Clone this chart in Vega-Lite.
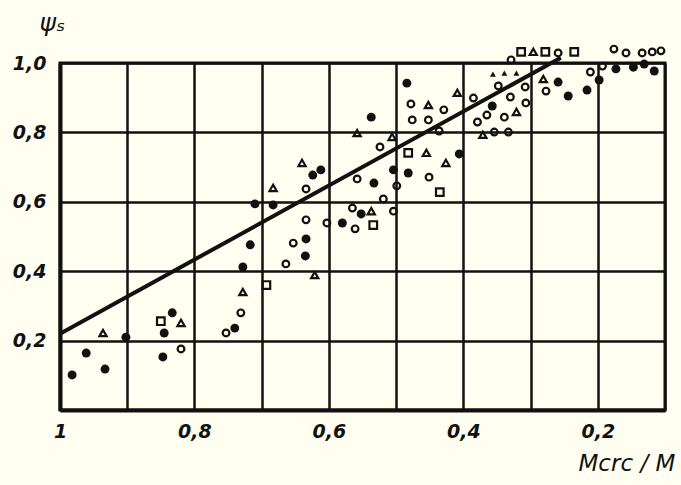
{
  "$schema": "https://vega.github.io/schema/vega-lite/v6.json",
  "width": 605,
  "height": 347,
  "autosize": "none",
  "padding": {"left": 60, "top": 63, "right": 16, "bottom": 75},
  "background": "#fffef0",
  "config": {
    "view": {"stroke": "#111", "strokeWidth": 3},
    "axis": {
      "gridColor": "#111", "gridWidth": 2.5, "gridOpacity": 1,
      "domainColor": "#111", "domainWidth": 4,
      "ticks": false,
      "labelFont": "DejaVu Sans", "labelFontStyle": "italic", "labelFontWeight": "bold",
      "labelFontSize": 19, "labelColor": "#111",
      "titleFont": "DejaVu Sans", "titleFontStyle": "italic", "titleFontWeight": "normal",
      "titleFontSize": 21, "titleColor": "#111"
    }
  },
  "datasets": {
    "pts": [
      {"m": 0.982, "psi": 0.101, "type": "F"},
      {"m": 0.961, "psi": 0.164, "type": "F"},
      {"m": 0.933, "psi": 0.118, "type": "F"},
      {"m": 0.936, "psi": 0.222, "type": "T"},
      {"m": 0.902, "psi": 0.210, "type": "F"},
      {"m": 0.850, "psi": 0.256, "type": "S"},
      {"m": 0.833, "psi": 0.280, "type": "F"},
      {"m": 0.820, "psi": 0.251, "type": "T"},
      {"m": 0.845, "psi": 0.222, "type": "F"},
      {"m": 0.820, "psi": 0.176, "type": "O"},
      {"m": 0.847, "psi": 0.153, "type": "F"},
      {"m": 0.753, "psi": 0.222, "type": "O"},
      {"m": 0.740, "psi": 0.236, "type": "F"},
      {"m": 0.731, "psi": 0.280, "type": "O"},
      {"m": 0.728, "psi": 0.340, "type": "T"},
      {"m": 0.693, "psi": 0.360, "type": "S"},
      {"m": 0.728, "psi": 0.412, "type": "F"},
      {"m": 0.717, "psi": 0.476, "type": "F"},
      {"m": 0.710, "psi": 0.594, "type": "F"},
      {"m": 0.683, "psi": 0.591, "type": "F"},
      {"m": 0.683, "psi": 0.640, "type": "T"},
      {"m": 0.640, "psi": 0.712, "type": "T"},
      {"m": 0.624, "psi": 0.677, "type": "F"},
      {"m": 0.612, "psi": 0.692, "type": "F"},
      {"m": 0.634, "psi": 0.637, "type": "O"},
      {"m": 0.634, "psi": 0.548, "type": "O"},
      {"m": 0.603, "psi": 0.539, "type": "O"},
      {"m": 0.580, "psi": 0.539, "type": "F"},
      {"m": 0.664, "psi": 0.421, "type": "O"},
      {"m": 0.653, "psi": 0.481, "type": "O"},
      {"m": 0.634, "psi": 0.493, "type": "F"},
      {"m": 0.635, "psi": 0.444, "type": "F"},
      {"m": 0.621, "psi": 0.389, "type": "T"},
      {"m": 0.565, "psi": 0.582, "type": "O"},
      {"m": 0.552, "psi": 0.565, "type": "F"},
      {"m": 0.537, "psi": 0.573, "type": "T"},
      {"m": 0.561, "psi": 0.522, "type": "O"},
      {"m": 0.534, "psi": 0.533, "type": "S"},
      {"m": 0.519, "psi": 0.608, "type": "O"},
      {"m": 0.504, "psi": 0.573, "type": "O"},
      {"m": 0.558, "psi": 0.666, "type": "O"},
      {"m": 0.533, "psi": 0.654, "type": "F"},
      {"m": 0.499, "psi": 0.646, "type": "O"},
      {"m": 0.504, "psi": 0.692, "type": "F"},
      {"m": 0.482, "psi": 0.683, "type": "F"},
      {"m": 0.524, "psi": 0.758, "type": "O"},
      {"m": 0.482, "psi": 0.741, "type": "S"},
      {"m": 0.455, "psi": 0.741, "type": "T"},
      {"m": 0.406, "psi": 0.738, "type": "F"},
      {"m": 0.426, "psi": 0.712, "type": "T"},
      {"m": 0.451, "psi": 0.671, "type": "O"},
      {"m": 0.435, "psi": 0.628, "type": "S"},
      {"m": 0.558, "psi": 0.798, "type": "T"},
      {"m": 0.506, "psi": 0.787, "type": "T"},
      {"m": 0.537, "psi": 0.844, "type": "F"},
      {"m": 0.476, "psi": 0.836, "type": "O"},
      {"m": 0.452, "psi": 0.836, "type": "O"},
      {"m": 0.436, "psi": 0.804, "type": "O"},
      {"m": 0.478, "psi": 0.882, "type": "O"},
      {"m": 0.452, "psi": 0.879, "type": "T"},
      {"m": 0.429, "psi": 0.865, "type": "O"},
      {"m": 0.484, "psi": 0.942, "type": "F"},
      {"m": 0.409, "psi": 0.914, "type": "T"},
      {"m": 0.385, "psi": 0.899, "type": "O"},
      {"m": 0.379, "psi": 0.830, "type": "O"},
      {"m": 0.365, "psi": 0.850, "type": "O"},
      {"m": 0.357, "psi": 0.876, "type": "F"},
      {"m": 0.348, "psi": 0.934, "type": "O"},
      {"m": 0.371, "psi": 0.793, "type": "T"},
      {"m": 0.354, "psi": 0.801, "type": "O"},
      {"m": 0.333, "psi": 0.801, "type": "O"},
      {"m": 0.339, "psi": 0.844, "type": "O"},
      {"m": 0.321, "psi": 0.859, "type": "T"},
      {"m": 0.330, "psi": 0.902, "type": "O"},
      {"m": 0.307, "psi": 0.885, "type": "O"},
      {"m": 0.308, "psi": 0.931, "type": "O"},
      {"m": 0.356, "psi": 0.968, "type": "Tf"},
      {"m": 0.339, "psi": 0.971, "type": "Tf"},
      {"m": 0.321, "psi": 0.971, "type": "Tf"},
      {"m": 0.329, "psi": 1.009, "type": "O"},
      {"m": 0.314, "psi": 1.032, "type": "S"},
      {"m": 0.296, "psi": 1.032, "type": "T"},
      {"m": 0.278, "psi": 1.032, "type": "S"},
      {"m": 0.259, "psi": 1.029, "type": "O"},
      {"m": 0.235, "psi": 1.032, "type": "S"},
      {"m": 0.281, "psi": 0.954, "type": "T"},
      {"m": 0.259, "psi": 0.945, "type": "F"},
      {"m": 0.277, "psi": 0.919, "type": "O"},
      {"m": 0.244, "psi": 0.905, "type": "F"},
      {"m": 0.216, "psi": 0.922, "type": "F"},
      {"m": 0.211, "psi": 0.974, "type": "O"},
      {"m": 0.198, "psi": 0.951, "type": "F"},
      {"m": 0.193, "psi": 0.991, "type": "O"},
      {"m": 0.173, "psi": 0.983, "type": "F"},
      {"m": 0.147, "psi": 0.988, "type": "F"},
      {"m": 0.131, "psi": 0.997, "type": "F"},
      {"m": 0.116, "psi": 0.977, "type": "F"},
      {"m": 0.176, "psi": 1.040, "type": "O"},
      {"m": 0.158, "psi": 1.029, "type": "O"},
      {"m": 0.134, "psi": 1.029, "type": "O"},
      {"m": 0.119, "psi": 1.032, "type": "O"},
      {"m": 0.106, "psi": 1.035, "type": "O"}
    ],
    "fit": [
      {"m": 1.0, "psi": 0.22},
      {"m": 0.255, "psi": 1.015}
    ]
  },
  "encoding": {
    "x": {
      "field": "m", "type": "quantitative",
      "scale": {"domain": [0.1, 1.0], "reverse": true, "nice": false, "zero": false},
      "axis": {
        "values": [0.1, 0.2, 0.3, 0.4, 0.5, 0.6, 0.7, 0.8, 0.9, 1.0],
        "labelExpr": "datum.value > 0.99 ? '1' : (round(datum.value * 10) % 2 == 0 ? replace(format(datum.value, '.1f'), '.', ',') : '')",
        "labelPadding": 12,
        "labelFlush": false,
        "title": "Mcrc / M",
        "titleFontSize": 23,
        "titleX": 518, "titleY": 60, "titleAlign": "left", "titleBaseline": "alphabetic"
      }
    },
    "y": {
      "field": "psi", "type": "quantitative",
      "scale": {"domain": [0, 1.0], "nice": false, "zero": false},
      "axis": {
        "values": [0, 0.2, 0.4, 0.6, 0.8, 1.0],
        "labelExpr": "datum.value < 0.01 ? '' : replace(format(datum.value, '.1f'), '.', ',')",
        "labelPadding": 14,
        "labelFlush": false,
        "title": "ψₛ",
        "titleFontSize": 25,
        "titleAngle": 0, "titleX": -21, "titleY": -33, "titleAlign": "left", "titleBaseline": "alphabetic"
      }
    }
  },
  "layer": [
    {
      "data": {"name": "fit"},
      "mark": {"type": "line", "color": "#111", "strokeWidth": 4}
    },
    {
      "data": {"name": "pts"},
      "transform": [{"filter": "datum.type == 'F'"}],
      "mark": {"type": "point", "shape": "circle", "filled": true, "color": "#111", "size": 80, "opacity": 1}
    },
    {
      "data": {"name": "pts"},
      "transform": [{"filter": "datum.type == 'O'"}],
      "mark": {"type": "point", "shape": "circle", "filled": false, "color": "#111", "size": 45, "strokeWidth": 2.2, "opacity": 1}
    },
    {
      "data": {"name": "pts"},
      "transform": [{"filter": "datum.type == 'T'"}],
      "mark": {"type": "point", "shape": "triangle-up", "filled": false, "color": "#111", "size": 52, "strokeWidth": 2.2, "opacity": 1}
    },
    {
      "data": {"name": "pts"},
      "transform": [{"filter": "datum.type == 'Tf'"}],
      "mark": {"type": "point", "shape": "triangle-up", "filled": true, "color": "#111", "size": 35, "opacity": 1}
    },
    {
      "data": {"name": "pts"},
      "transform": [{"filter": "datum.type == 'S'"}],
      "mark": {"type": "point", "shape": "square", "filled": false, "color": "#111", "size": 58, "strokeWidth": 2.2, "opacity": 1}
    }
  ]
}
